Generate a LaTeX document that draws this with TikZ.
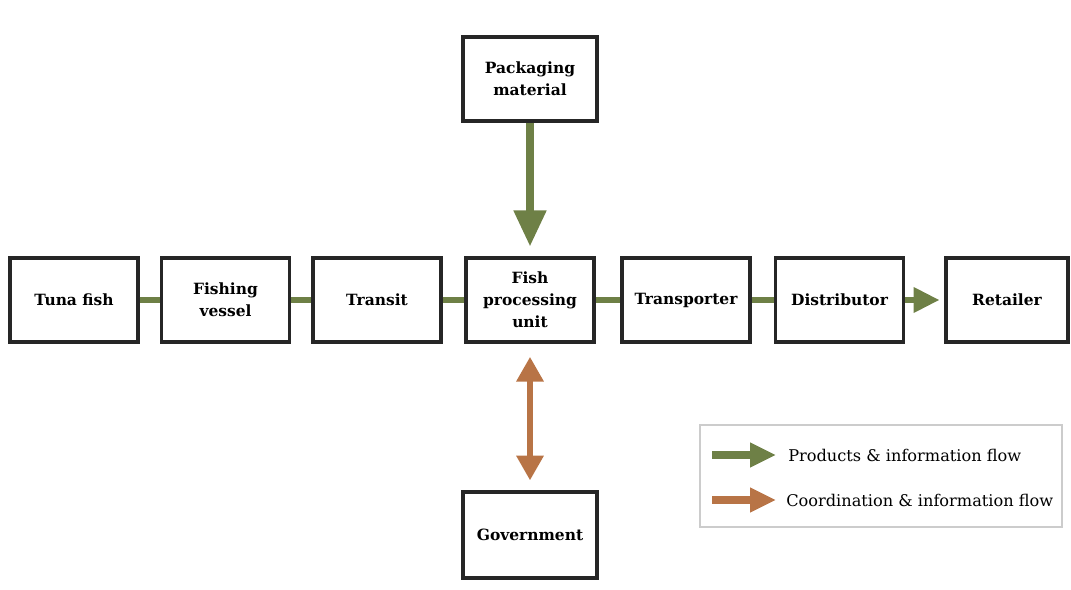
\documentclass[tikz,border=0pt]{standalone}
\usepackage{fontspec}
\setmainfont{DejaVu Serif}
\usetikzlibrary{arrows.meta}

\definecolor{flowgreen}{RGB}{110,128,70}
\definecolor{flowbrown}{RGB}{184,116,70}

\tikzset{
  stage/.style={draw=black!85, line width=2.2pt, fill=white, minimum width=3.2cm,
    minimum height=2.1cm, align=center, inner sep=2pt,
    font=\fontsize{11}{15.6}\selectfont\bfseries},
  flow/.style={flowgreen, line width=4.8pt},
  coord/.style={flowbrown, line width=4.8pt},
  legendtext/.style={anchor=west, inner sep=0pt, font=\fontsize{11.5}{13}\selectfont},
}

\begin{document}
\begin{tikzpicture}[x=0.025cm, y=-0.025cm]
  \useasboundingbox (0,0) rectangle (1071,590);

  % main chain
  \node[stage] (tuna) at (74,300) {Tuna fish};
  \node[stage] (vessel) at (225.5,300) {Fishing\\vessel};
  \node[stage] (transit) at (377,300) {Transit};
  \node[stage] (proc) at (530,300) {Fish\\processing\\unit};
  \node[stage] (transp) at (686,300) {Transporter};
  \node[stage] (distr) at (839.5,300) {Distributor};
  \node[stage, minimum width=3.05cm] (retail) at (1007,300) {Retailer};

  % inputs and coordination
  \node[stage, minimum width=3.35cm] (pack) at (530,79) {Packaging\\material};
  \node[stage, minimum width=3.35cm, minimum height=2.15cm] (gov) at (530,535) {Government};

  \draw[flow] (tuna) -- (vessel);
  \draw[flow] (vessel) -- (transit);
  \draw[flow] (transit) -- (proc);
  \draw[flow] (proc) -- (transp);
  \draw[flow] (transp) -- (distr);
  \draw[flow, -{Triangle[length=0.65cm, width=0.6cm]}, shorten >=0.12cm] (distr) -- (retail);
  \draw[flow, line width=5.2pt, -{Triangle[length=0.9cm, width=0.78cm]}, shorten >=0.25cm] (pack) -- (proc);
  \draw[coord, {Triangle[length=0.62cm, width=0.65cm]}-{Triangle[length=0.62cm, width=0.65cm]},
    shorten <=0.33cm, shorten >=0.25cm] (proc) -- (gov);

  % legend
  \node[draw=black!20, line width=0.8pt, minimum width=9.05cm, minimum height=2.55cm] (legend) at (881,476) {};
  \draw[flow, line width=5.8pt, -{Triangle[length=0.65cm, width=0.58cm]}] (712,455) -- (776,455);
  \draw[coord, line width=5.8pt, -{Triangle[length=0.65cm, width=0.58cm]}] (712,500) -- (776,500);
  \node[legendtext] (prodflow) at (788,455) {Products \& information flow};
  \node[legendtext] (coordflow) at (786,500) {Coordination \& information flow};
\end{tikzpicture}
\end{document}
